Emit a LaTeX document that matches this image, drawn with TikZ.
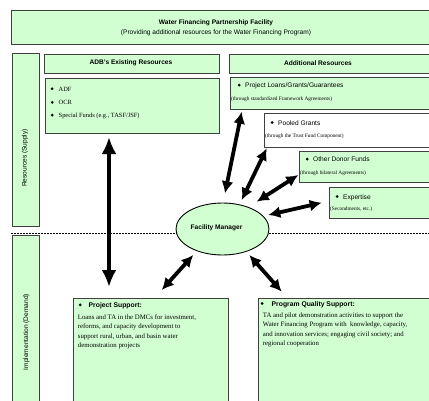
\documentclass[tikz,border=0pt]{standalone}
\usepackage{fontspec}
\setmainfont{Liberation Serif}
\setsansfont{Liberation Sans}
\usetikzlibrary{arrows.meta, shapes.geometric, positioning}

\definecolor{boxgreen}{RGB}{210,255,210}
\newcommand{\bul}{\raisebox{0.3ex}{\tikz\fill (0,0) circle (1.5pt);}}
\tikzset{
  box/.style={draw=black!75, line width=0.9pt, fill=boxgreen, anchor=north west, inner sep=0pt},
  txt/.style={anchor=west, inner sep=0pt, font=\sffamily\fontsize{6.6}{7.5}\selectfont},
  head/.style={inner sep=0pt, font=\sffamily\bfseries\fontsize{6.6}{7.5}\selectfont},
  sub/.style={anchor=west, inner sep=0pt, font=\fontsize{5.3}{6.5}\selectfont},
  serif/.style={anchor=west, inner sep=0pt, font=\fontsize{6.4}{7.5}\selectfont},
  body/.style={anchor=north west, inner sep=0pt, align=left, font=\fontsize{6.8}{9.3}\selectfont},
  twoway/.style={{Latex[length=12pt,width=12pt]}-{Latex[length=12pt,width=12pt]}, line width=3.8pt},
  bigway/.style={{Latex[length=17pt,width=15pt]}-{Latex[length=17pt,width=15pt]}, line width=4.5pt},
  divider/.style={line width=1.6pt, dash pattern=on 2pt off 1pt},
}

\begin{document}
\begin{tikzpicture}[x=1pt, y=-1pt]
\useasboundingbox (0,0) rectangle (429,400);

% top
\node[box, minimum width=420pt, minimum height=34pt](Top) at (11,10) {};
\node[head](TopA) at (216,22.5) {Water Financing Partnership Facility};
\node[txt, anchor=center](TopB) at (216,32.7) {(Providing additional resources for the Water Financing Program)};

% side bars
\node[box, minimum width=27pt, minimum height=173pt](Supply) at (12,53) {};
\node[txt, anchor=center, rotate=90](SupplyL) at (25,158) {Resources (Supply)};
\node[box, minimum width=27pt, minimum height=175pt](Demand) at (12,235) {};
\node[txt, anchor=center, rotate=90](DemandL) at (26.5,332) {Implementation (Demand)};

% dotted line
\coordinate (DL) at (11,233.5);
\coordinate (DR) at (431,233.5);
\draw[divider] (DL) -- (DR);

% ADB resources
\node[box, minimum width=175pt, minimum height=19pt](ADBh) at (44,54) {};
\node[head](ADBhL) at (131,63) {ADB's Existing Resources};
\node[box, minimum width=174pt, minimum height=55pt](ADB) at (45,78) {};
\node[serif](ADB1) at (50.5,89) {\bul\hspace{5pt}ADF};
\node[serif](ADB2) at (50.5,102.7) {\bul\hspace{5pt}OCR};
\node[serif](ADB3) at (50.5,116) {\bul\hspace{5pt}Special Funds (e.g., TASF/JSF)};

% additional resources
\node[box, minimum width=202pt, minimum height=19pt](ADDh) at (229,54) {};
\node[head](ADDhL) at (318,63) {Additional Resources};
\node[box, minimum width=201pt, minimum height=32pt](Loans) at (230,77) {};
\node[txt](LoansA) at (237.5,86) {\bul\hspace{4.5pt}Project Loans/Grants/Guarantees};
\node[sub](LoansB) at (231,99) {(through standardized Framework Agreements)};
\node[box, fill=white, minimum width=167pt, minimum height=34pt](Pool) at (264,113) {};
\node[txt](PoolA) at (270.5,122.7) {\bul\hspace{4.5pt}Pooled Grants};
\node[sub](PoolB) at (265,136.7) {(through the Trust Fund Component)};
\node[box, minimum width=132pt, minimum height=31pt](Donor) at (299,151) {};
\node[txt](DonorA) at (305.5,159.3) {\bul\hspace{4.5pt}Other Donor Funds};
\node[sub](DonorB) at (300,173.3) {(through bilateral Agreements)};
\node[box, minimum width=102pt, minimum height=31pt](Expert) at (329,187) {};
\node[txt](ExpertA) at (335.5,197.3) {\bul\hspace{4.5pt}Expertise};
\node[sub](ExpertB) at (330,209.3) {(Secondments, etc.)};

% facility manager
\node[ellipse, draw=black, line width=0.9pt, fill=boxgreen, minimum width=93pt, minimum height=52pt](FM) at (222.5,229) {};
\node[head](FML) at (216.5,227.7) {Facility Manager};

% demand side
\node[box, minimum width=155pt, minimum height=110pt](Proj) at (73,298) {};
\node[txt, font=\sffamily\bfseries\fontsize{6.8}{7.5}\selectfont](ProjA) at (78.5,305.7) {\bul\hspace{7pt}Project Support:};
\node[body](ProjB) at (77.7,314.5) {Loans and TA in the DMCs for investment,\\reforms, and capacity development to\\support rural, urban, and basin water\\demonstration projects};
\node[box, minimum width=175pt, minimum height=110pt](Qual) at (258,298) {};
\node[txt, font=\sffamily\bfseries\fontsize{6.8}{7.5}\selectfont](QualA) at (260.5,304.3) {\bul\hspace{8pt}Program Quality Support:};
\node[body](QualB) at (262.7,312.5) {TA and pilot demonstration activities to support the\\Water Financing Program with\ \ knowledge, capacity,\\and innovation services; engaging civil society; and\\regional cooperation};

% arrow ends
\coordinate (a1) at (109,137);   \coordinate (b1) at (109,287);
\coordinate (a2) at (193.3,255); \coordinate (b2) at (161.7,290);
\coordinate (a3) at (249.3,255); \coordinate (b3) at (281.7,291.7);
\coordinate (a4) at (241.7,111.7); \coordinate (b4) at (225,193.3);
\coordinate (a5) at (266.7,148.3); \coordinate (b5) at (241.7,200);
\coordinate (a6) at (298.3,175); \coordinate (b6) at (256.7,201.7);
\coordinate (a7) at (321.7,202.7); \coordinate (b7) at (268.3,215);

\draw[bigway] (a1) -- (b1);
\draw[twoway] (a2) -- (b2);
\draw[twoway] (a3) -- (b3);
\draw[twoway] (a4) -- (b4);
\draw[twoway] (a5) -- (b5);
\draw[twoway] (a6) -- (b6);
\draw[twoway] (a7) -- (b7);
\end{tikzpicture}
\end{document}
